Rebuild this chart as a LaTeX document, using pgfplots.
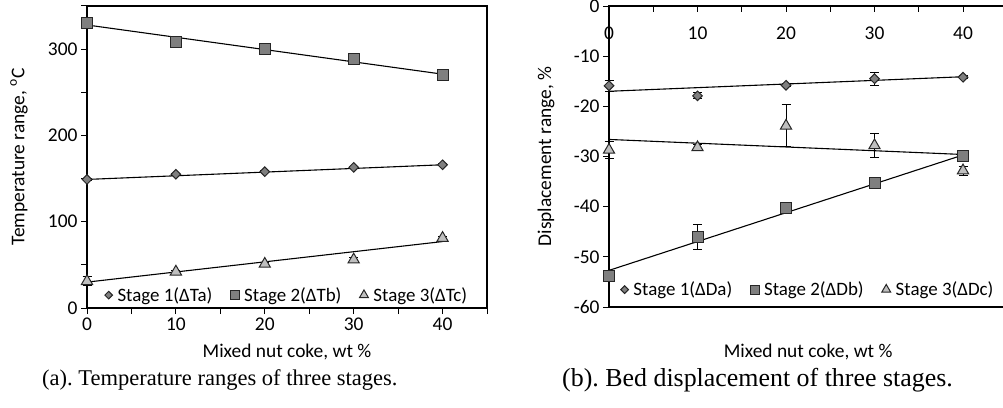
\documentclass[border=0pt]{standalone}
\usepackage{pgfplots}
\pgfplotsset{compat=1.18}
\usepackage{fontspec}
\setmainfont{Carlito}
\newfontfamily\capfont{Liberation Serif}
\definecolor{mk}{HTML}{7F7F7F}
\definecolor{tri}{HTML}{BFBFBF}
\definecolor{edge}{HTML}{262626}

\pgfplotstableread{
x y e
0 149 1
10 155 1
20 158 1
30 163 1
40 166 1
}\TaTable
\pgfplotstableread{
x y e
0 330 1
10 308 1
20 300 1
30 288 1
40 270 1
}\TbTable
\pgfplotstableread{
x y e
0 31 5
10 42 2
20 51 2
30 56 2
40 81 2
}\TcTable

\pgfplotstableread{
x y e
0 -15.9 1.1
10 -17.9 0.6
20 -15.8 0.3
30 -14.5 1.3
40 -14.2 0.3
}\DaTable
\pgfplotstableread{
x y e
0 -53.9 0.5
10 -46.0 2.5
20 -40.3 0.5
30 -35.2 0.5
40 -29.9 0.5
}\DbTable
\pgfplotstableread{
x y e
0 -28.7 1.6
10 -28.2 0.5
20 -23.9 4.2
30 -27.8 2.4
40 -32.8 0.9
}\DcTable

\pgfplotsset{
  common/.style={
    scale only axis, clip=false,
    /pgf/number format/assume math mode=true,
    tick label style={font=\fontsize{19.5}{22}\selectfont},
    axis line style={line width=1.3bp, black},
    every tick/.style={line width=1bp, black},
    major tick length=6bp, minor tick length=6bp,
    legend style={draw=none, fill=none, legend columns=3,
      font=\fontsize{19}{21}\selectfont,
      /tikz/every even column/.append style={column sep=16bp},
      /tikz/every odd column/.append style={column sep=3bp},
      legend cell align=left, inner sep=0pt},
    legend image post style={scale=0.8},
    error bars/error bar style={line width=1bp, black},
    error bars/error mark options={rotate=90, mark size=4.5bp, line width=1bp, black},
  },
  dia/.style={only marks, mark=square*, mark size=3.4bp, mark options={rotate=45, fill=mk, draw=edge, line width=1bp}},
  sqr/.style={only marks, mark=square*, mark size=5.5bp, mark options={fill=mk, draw=edge, line width=1bp}},
  trg/.style={only marks, mark=triangle*, mark size=6.5bp, mark options={fill=tri, draw=edge, line width=1bp}},
  trend/.style={black, line width=1.1bp, no marks, forget plot},
}

\begin{document}
\frenchspacing
\begin{tikzpicture}[x=1bp,y=1bp]
\path[use as bounding box] (0,0) rectangle (1003,407);
\clip (0,0) rectangle (1003,407);

% ---------- (a) ----------
\begin{axis}[common,
  at={(87bp,99bp)}, anchor=south west,
  width=400bp, height=302bp,
  xmin=0, xmax=45, ymin=0, ymax=350,
  xtick={0,10,20,30,40}, minor xtick={5,15,25,35,45},
  ytick={0,100,200,300}, minor ytick={50,150,250,350},
  tick align=outside, tick pos=left,
  legend style={at={(0.5,0.01)}, anchor=south},
]
\addplot+[dia, error bars/.cd, y dir=both, y explicit] table[x=x,y=y,y error=e]{\TaTable};
\addlegendentry{Stage 1(ΔTa)}
\addplot+[sqr, error bars/.cd, y dir=both, y explicit] table[x=x,y=y,y error=e]{\TbTable};
\addlegendentry{Stage 2(ΔTb)}
\addplot+[trg, error bars/.cd, y dir=both, y explicit] table[x=x,y=y,y error=e]{\TcTable};
\addlegendentry{Stage 3(ΔTc)}
\addplot[trend] coordinates {(0,149) (40,166)};
\addplot[trend] coordinates {(0,328) (40,271)};
\addplot[trend] coordinates {(0,30) (40,77)};
\node[rotate=90, font=\fontsize{19.5}{22}\selectfont] at (axis description cs:-0.17,0.5) {Temperature range, \textsuperscript{o}C};
\node[font=\fontsize{19.5}{22}\selectfont] at (axis description cs:0.5,-0.146) {Mixed nut coke, wt \%};
\end{axis}

% ---------- (b) ----------
\begin{axis}[common,
  at={(609bp,100bp)}, anchor=south west,
  width=398.25bp, height=301bp,
  xmin=0, xmax=45, ymin=-60, ymax=0,
  xtick={0,10,20,30,40}, minor xtick={5,15,25,35,45},
  ytick={-60,-50,...,0},
  tick align=inside,
  xtick pos=upper, ytick pos=left,
  xticklabel pos=upper,
  ytick style={xshift=-6bp},
  yticklabel style={xshift=-6bp},
  xticklabel style={anchor=north, yshift=-17bp},
  legend style={at={(0.5,0.025)}, anchor=south},
]
\addplot+[dia, error bars/.cd, y dir=both, y explicit] table[x=x,y=y,y error=e]{\DaTable};
\addlegendentry{Stage 1(ΔDa)}
\addplot+[sqr, error bars/.cd, y dir=both, y explicit] table[x=x,y=y,y error=e]{\DbTable};
\addlegendentry{Stage 2(ΔDb)}
\addplot+[trg, error bars/.cd, y dir=both, y explicit] table[x=x,y=y,y error=e]{\DcTable};
\addlegendentry{Stage 3(ΔDc)}
\addplot[trend] coordinates {(0,-17) (40,-14.1)};
\addplot[trend] coordinates {(0,-52.7) (40,-29.7)};
\addplot[trend] coordinates {(0,-26.6) (40,-29.6)};
\node[rotate=90, font=\fontsize{19.5}{22}\selectfont] at (axis description cs:-0.158,0.5) {Displacement range, \%};
\node[font=\fontsize{19.5}{22}\selectfont] at (axis description cs:0.5,-0.15) {Mixed nut coke, wt \%};
\end{axis}

\node[anchor=west, inner sep=0pt, font=\capfont\fontsize{22.6}{26}\selectfont] at (42,27) {(a). Temperature ranges of three stages.};
\node[anchor=west, inner sep=0pt, font=\capfont\fontsize{26}{29}\selectfont] at (562,27) {(b). Bed displacement of three stages.};
\end{tikzpicture}
\end{document}
